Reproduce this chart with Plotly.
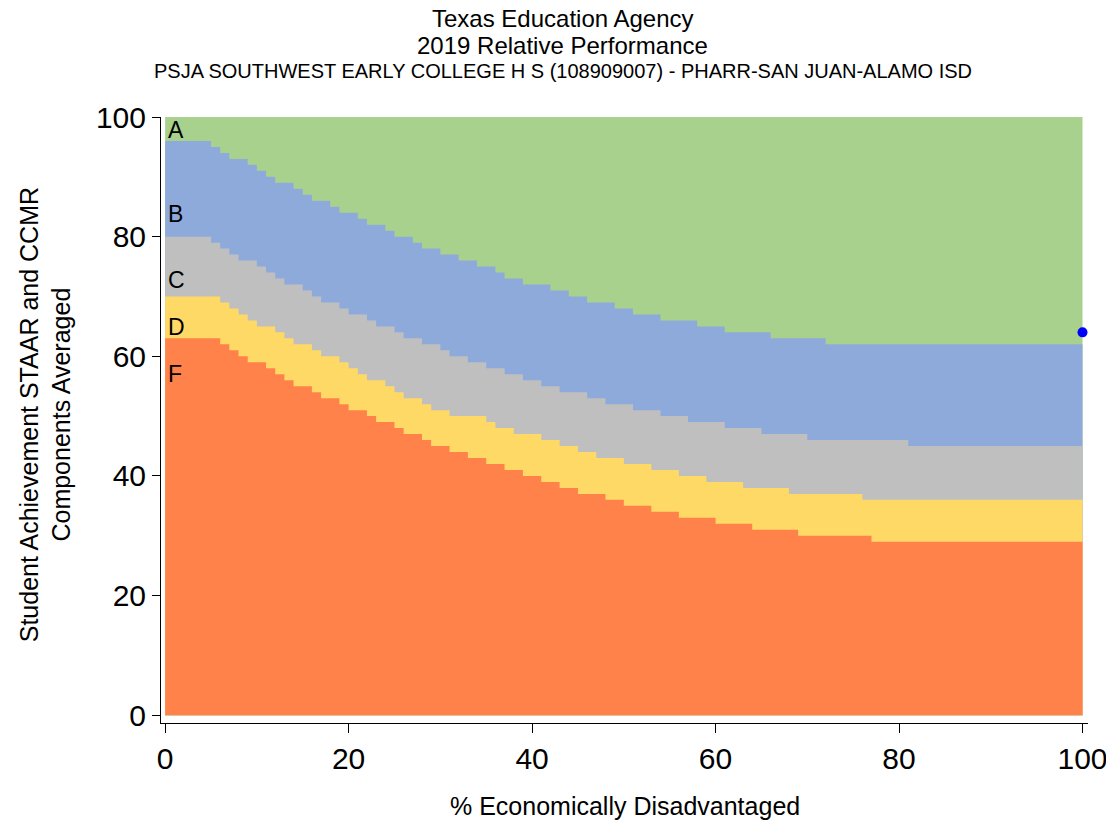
import plotly.graph_objects as go

# Step boundaries: x where a new level starts, and the level (top of each band)
f_x = [0, 6, 7, 8, 9, 11, 12, 13, 14, 16, 17, 19, 20, 22, 23, 25, 26, 28, 29, 31,
       33, 35, 37, 39, 41, 43, 45, 48, 50, 53, 56, 60, 64, 69, 77]
f_y = [63, 62, 61, 60, 59, 58, 57, 56, 55, 54, 53, 52, 51, 50, 49, 48, 47, 46, 45, 44,
       43, 42, 41, 40, 39, 38, 37, 36, 35, 34, 33, 32, 31, 30, 29]

d_x = [0, 6, 7, 8, 9, 10, 12, 13, 14, 16, 17, 19, 20, 21, 22, 24, 25, 26, 28, 29,
       31, 35, 36, 38, 41, 43, 45, 47, 50, 53, 56, 59, 63, 68, 76]
d_y = [70, 69, 68, 67, 66, 65, 64, 63, 62, 61, 60, 59, 58, 57, 56, 55, 54, 53, 52, 51,
       50, 49, 48, 47, 46, 45, 44, 43, 42, 41, 40, 39, 38, 37, 36]

c_x = [0, 5, 6, 7, 8, 10, 11, 12, 13, 15, 16, 17, 19, 20, 22, 23, 25, 26, 28, 30,
       31, 33, 35, 37, 39, 41, 43, 46, 48, 51, 54, 57, 61, 65, 70, 81]
c_y = [80, 79, 78, 77, 76, 75, 74, 73, 72, 71, 70, 69, 68, 67, 66, 65, 64, 63, 62, 61,
       60, 59, 58, 57, 56, 55, 54, 53, 52, 51, 50, 49, 48, 47, 46, 45]

b_x = [0, 5, 6, 7, 9, 10, 11, 12, 14, 15, 16, 18, 19, 21, 22, 24, 25, 27, 28, 30,
       32, 34, 36, 37, 39, 42, 44, 46, 49, 51, 54, 58, 61, 66, 72]
b_y = [96, 95, 94, 93, 92, 91, 90, 89, 88, 87, 86, 85, 84, 83, 82, 81, 80, 79, 78, 77,
       76, 75, 74, 73, 72, 71, 70, 69, 68, 67, 66, 65, 64, 63, 62]

a_x = [0]
a_y = [100]

x_max = 100

school_x = [100]
school_y = [64]

grade_labels = ["A", "B", "C", "D", "F"]
grade_label_y = [97.8, 83.8, 72.7, 64.9, 57.0]

x_ticks = [0, 20, 40, 60, 80, 100]
y_ticks = [0, 20, 40, 60, 80, 100]

colors = {
    "A": "#A9D18E",
    "B": "#8EAADB",
    "C": "#BFBFBF",
    "D": "#FFD966",
    "F": "#FF824B",
}

fig = go.Figure()

bands = [("A", a_x, a_y), ("B", b_x, b_y), ("C", c_x, c_y), ("D", d_x, d_y), ("F", f_x, f_y)]
for name, xs, ys in bands:
    fig.add_trace(go.Scatter(
        x=list(xs) + [x_max],
        y=list(ys) + [ys[-1]],
        mode="lines",
        line=dict(shape="hv", width=0, color=colors[name]),
        fill="tozeroy",
        fillcolor=colors[name],
        hoverinfo="skip",
        showlegend=False,
    ))

fig.add_trace(go.Scatter(
    x=school_x, y=school_y, mode="markers",
    marker=dict(color="#0000FF", size=10),
    cliponaxis=False, showlegend=False,
))

font_family = "Liberation Sans, Arial, sans-serif"

for lab, ly in zip(grade_labels, grade_label_y):
    fig.add_annotation(x=0.1, y=ly, text=lab, showarrow=False, xanchor="left",
                       yanchor="middle", font=dict(size=23, color="black", family=font_family))

# Titles
fig.add_annotation(xref="paper", yref="paper", x=0.4335, y=1.163, text="Texas Education Agency",
                   showarrow=False, xanchor="center", yanchor="middle",
                   font=dict(size=24, color="black", family=font_family))
fig.add_annotation(xref="paper", yref="paper", x=0.4335, y=1.118, text="2019 Relative Performance",
                   showarrow=False, xanchor="center", yanchor="middle",
                   font=dict(size=24, color="black", family=font_family))
fig.add_annotation(xref="paper", yref="paper", x=0.4335, y=1.076,
                   text="PSJA SOUTHWEST EARLY COLLEGE H S (108909007) - PHARR-SAN JUAN-ALAMO ISD",
                   showarrow=False, xanchor="center", yanchor="middle",
                   font=dict(size=20, color="black", family=font_family))

# Axis titles
fig.add_annotation(xref="paper", yref="paper", x=0.5, y=-0.137,
                   text="% Economically Disadvantaged", showarrow=False,
                   xanchor="center", yanchor="middle",
                   font=dict(size=25, color="black", family=font_family))
fig.add_annotation(xref="paper", yref="paper", x=-0.125, y=0.508,
                   text="Student Achievement STAAR and CCMR<br>Components Averaged",
                   showarrow=False, textangle=-90, xanchor="center", yanchor="middle",
                   font=dict(size=25, color="black", family=font_family))

fig.update_layout(
    width=1106, height=815,
    margin=dict(l=153, r=26, t=109, b=100, autoexpand=False),
    paper_bgcolor="white", plot_bgcolor="white",
    showlegend=False,
    xaxis=dict(range=[-0.45, 100.6], tickvals=x_ticks, ticks="outside", ticklen=9,
               tickcolor="black", showline=True, linecolor="black", linewidth=1,
               showgrid=False, zeroline=False, automargin=False,
               tickfont=dict(size=30, color="black", family=font_family)),
    yaxis=dict(range=[-1.3, 100], tickvals=y_ticks, ticks="outside", ticklen=8,
               tickcolor="black", showline=True, linecolor="black", linewidth=1,
               showgrid=False, zeroline=False, automargin=False,
               tickfont=dict(size=30, color="black", family=font_family)),
)

fig.write_html("out.html")
